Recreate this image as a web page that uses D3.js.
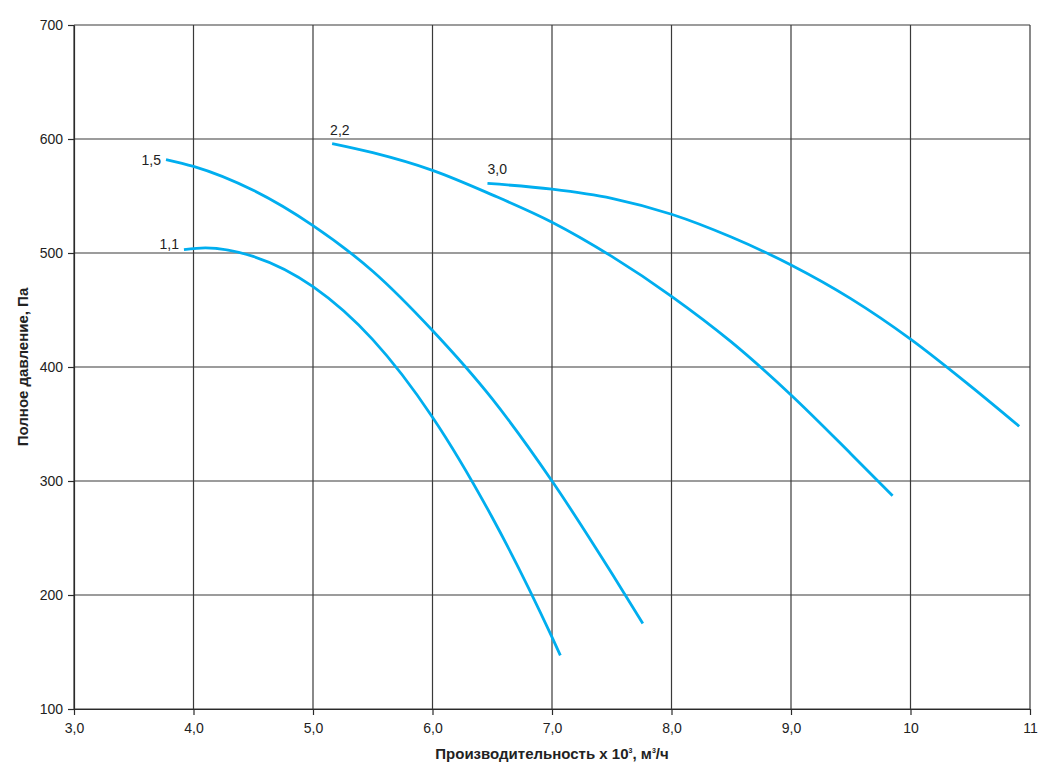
<!DOCTYPE html>
<html>
<head>
<meta charset="utf-8">
<script src="https://cdn.jsdelivr.net/npm/d3@7"></script>
<style>
  body { margin: 0; background: #fff; }
  svg { display: block; font-family: "Liberation Sans", Arial, sans-serif; }
  .grid line { stroke: #3a3a3a; stroke-width: 1.2; }
  .axis path, .axis line { stroke: #2a2a2a; stroke-width: 1.2; }
  .axis text { font-size: 14px; fill: #222; }
  .curve { fill: none; stroke: #00aeef; stroke-width: 2.8; }
  .curve-label { font-size: 14px; fill: #222; }
  .axis-title { font-size: 15px; font-weight: bold; fill: #222; }
</style>
</head>
<body>
<svg id="chart" width="1052" height="777"></svg>
<script>
// ---------------------------------------------------------------------------
// Data (at half-unit steps of flow)
// ---------------------------------------------------------------------------

const xTicks = [3, 4, 5, 6, 7, 8, 9, 10, 11];
const xTickLabels = ['3,0', '4,0', '5,0', '6,0', '7,0', '8,0', '9,0', '10', '11'];
const yTicks = [100, 200, 300, 400, 500, 600, 700];

// flow x 10^3 m3/h, total pressure Pa
const curve11 = [[3.92, 503], [4.1, 504.5], [4.5, 497], [5.0, 470.5], [5.5, 424],
                 [6.0, 356], [6.5, 268], [7.0, 163], [7.07, 147]];
const curve15 = [[3.77, 582], [4.0, 576], [4.5, 555], [5.0, 524], [5.5, 484],
                 [6.0, 432], [6.5, 372], [7.0, 300], [7.5, 219], [7.76, 175]];
const curve22 = [[5.16, 596], [5.5, 588], [6.0, 572.5], [6.5, 551], [7.0, 527],
                 [7.5, 497], [8.0, 462], [8.5, 422], [9.0, 375.5], [9.5, 324], [9.85, 287]];
const curve30 = [[6.46, 561], [7.0, 556], [7.5, 548], [8.0, 534], [8.5, 514],
                 [9.0, 489.5], [9.5, 460], [10.0, 424.5], [10.5, 383.5], [10.91, 348]];

const curveNames = ['1,1', '1,5', '2,2', '3,0'];
const curveData = [curve11, curve15, curve22, curve30];

// ---------------------------------------------------------------------------
// Layout
// ---------------------------------------------------------------------------

const W = 1052, H = 777;
const M = { top: 25, right: 22, bottom: 68, left: 74 };

const svg = d3.select('#chart');

const x = d3.scaleLinear().domain([3, 11]).range([M.left, W - M.right]);
const y = d3.scaleLinear().domain([100, 700]).range([H - M.bottom, M.top]);

// Grid
const grid = svg.append('g').classed('grid', true);
grid.selectAll('.gx').data(xTicks).join('line')
  .attr('x1', d => x(d)).attr('x2', d => x(d))
  .attr('y1', y(100)).attr('y2', y(700));
grid.selectAll('.gy').data(yTicks).join('line')
  .attr('x1', x(3)).attr('x2', x(11))
  .attr('y1', d => y(d)).attr('y2', d => y(d));

// Axes
svg.append('g').classed('axis', true)
  .attr('transform', `translate(0,${y(100)})`)
  .call(d3.axisBottom(x).tickValues(xTicks)
    .tickFormat((d, i) => xTickLabels[i]).tickSize(6).tickSizeOuter(0).tickPadding(8));

svg.append('g').classed('axis', true)
  .attr('transform', `translate(${x(3)},0)`)
  .call(d3.axisLeft(y).tickValues(yTicks).tickSize(6).tickSizeOuter(0).tickPadding(5));

// Curves
const line = d3.line()
  .x(d => x(d[0]))
  .y(d => y(d[1]))
  .curve(d3.curveMonotoneX);

svg.selectAll('.curve').data(curveData).join('path')
  .classed('curve', true)
  .attr('d', d => line(d));

// Curve labels, placed next to the start of each curve
const labelOffsets = [[-5, -1, 'end'], [-5, 5, 'end'], [-2, -9, 'start'], [0, -9, 'start']];
curveData.forEach((c, i) => {
  const [dx, dy, anchor] = labelOffsets[i];
  svg.append('text').classed('curve-label', true)
    .attr('x', x(c[0][0]) + dx)
    .attr('y', y(c[0][1]) + dy)
    .attr('text-anchor', anchor)
    .text(curveNames[i]);
});

// Axis titles
const xt = svg.append('text').classed('axis-title', true)
  .attr('x', (x(3) + x(11)) / 2)
  .attr('y', H - 18)
  .attr('text-anchor', 'middle');
xt.append('tspan').text('Производительность х 10');
xt.append('tspan').attr('font-size', '7px').attr('dy', -6).text('3');
xt.append('tspan').attr('dy', 6).text(', м');
xt.append('tspan').attr('font-size', '7px').attr('dy', -6).text('3');
xt.append('tspan').attr('dy', 6).text('/ч');

svg.append('text').classed('axis-title', true)
  .attr('transform', `translate(28,${(y(100) + y(700)) / 2}) rotate(-90)`)
  .attr('text-anchor', 'middle')
  .text('Полное давление, Па');
</script>
</body>
</html>
